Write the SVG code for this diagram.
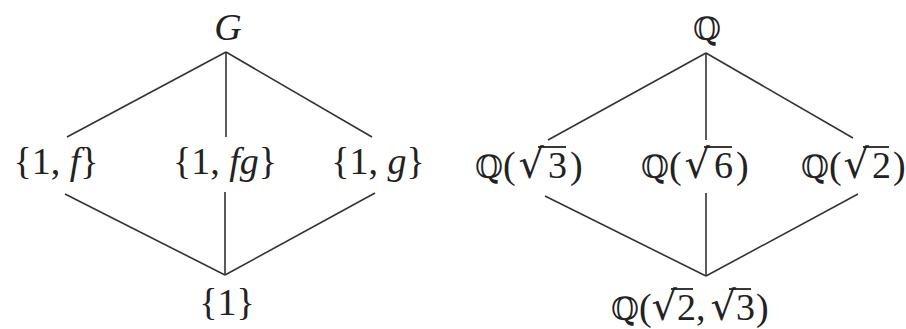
<svg xmlns="http://www.w3.org/2000/svg" width="906" height="329" viewBox="0 0 906 329">
<style>
.t{font-family:"Liberation Serif","DejaVu Serif",serif;font-size:38px;fill:#222}
.q{font-family:"DejaVu Serif",serif;font-size:32px}
.r{font-family:"DejaVu Serif",serif;font-size:40px}
.i{font-style:italic}
.e{stroke:#333;stroke-width:1.6;fill:none}
.v{stroke:#222;stroke-width:1.8}
</style>
<rect width="906" height="329" fill="#fff"/>
<g id="edges">
<line class="e" x1="226" y1="52" x2="67" y2="137"/>
<line class="e" x1="226" y1="52" x2="226" y2="137"/>
<line class="e" x1="226" y1="52" x2="372" y2="137"/>
<line class="e" x1="65" y1="194" x2="225" y2="275"/>
<line class="e" x1="225" y1="192" x2="225" y2="275"/>
<line class="e" x1="375" y1="193" x2="225" y2="275"/>
<line class="e" x1="706" y1="53" x2="548" y2="140"/>
<line class="e" x1="706" y1="53" x2="706" y2="140"/>
<line class="e" x1="706" y1="53" x2="853" y2="138"/>
<line class="e" x1="545" y1="196" x2="706" y2="276"/>
<line class="e" x1="706" y1="193" x2="706" y2="276"/>
<line class="e" x1="858" y1="194" x2="706" y2="276"/>
</g>
<g id="G"><text class="t i" x="228" y="40" text-anchor="middle">G</text></g>
<g id="f"><text class="t" x="56" y="174" text-anchor="middle">{1, <tspan class="i">f</tspan>}</text></g>
<g id="fg"><text class="t" x="225" y="174" text-anchor="middle">{1, <tspan class="i">fg</tspan>}</text></g>
<g id="g"><text class="t" x="378" y="174" text-anchor="middle">{1, <tspan class="i">g</tspan>}</text></g>
<g id="one"><text class="t" x="227" y="315" text-anchor="middle">{1}</text></g>
<g id="Q"><text class="t q" x="707" y="40" text-anchor="middle">ℚ</text></g>
<g id="Q3"><text class="t" x="475" y="178" font-size="37"><tspan class="q">ℚ</tspan>(<tspan class="r" dx="3">√</tspan><tspan dx="4">3</tspan><tspan dx="3">)</tspan></text><line class="v" x1="538" y1="147" x2="566" y2="147"/></g>
<g id="Q6"><text class="t" x="641" y="178" font-size="37"><tspan class="q">ℚ</tspan>(<tspan class="r" dx="3">√</tspan><tspan dx="4">6</tspan><tspan dx="3">)</tspan></text><line class="v" x1="704" y1="147" x2="732" y2="147"/></g>
<g id="Q2"><text class="t" x="801" y="178" font-size="37"><tspan class="q">ℚ</tspan>(<tspan class="r" dx="2">√</tspan><tspan dx="3">2</tspan><tspan dx="2">)</tspan></text><line class="v" x1="863" y1="147" x2="889" y2="147"/></g>
<g id="Q23"><text class="t" x="611" y="320" font-size="37"><tspan class="q">ℚ</tspan>(<tspan class="r">√</tspan>2,<tspan class="r" dx="5">√</tspan>3<tspan dx="1">)</tspan></text><line class="v" x1="671" y1="289" x2="693" y2="289"/><line class="v" x1="729" y1="289" x2="751" y2="289"/></g>
</svg>
